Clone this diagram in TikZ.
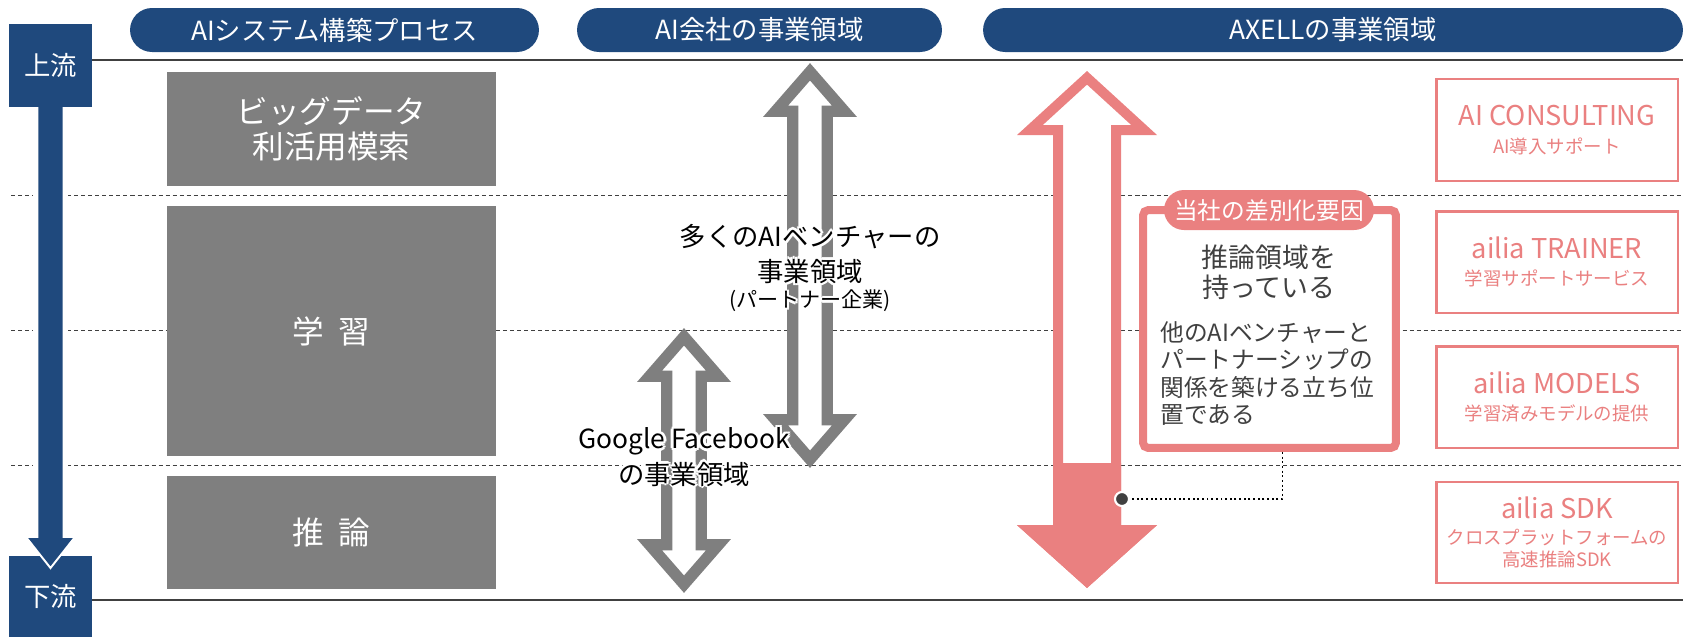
\documentclass[tikz,border=0pt]{standalone}
\usepackage{fontspec}
\setmainfont{Noto Sans CJK JP}
\definecolor{navy}{HTML}{1F497D}
\definecolor{boxgray}{HTML}{7F7F7F}
\definecolor{rose}{HTML}{EA8080}
\definecolor{ink}{HTML}{404040}
\newcommand{\halo}[1]{\leavevmode\begingroup
  \def\haloat##1##2{\rlap{\kern##1\raisebox{##2}{\color{white}#1}}}%
  \haloat{1.4pt}{0pt}\haloat{-1.4pt}{0pt}\haloat{0pt}{1.4pt}\haloat{0pt}{-1.4pt}%
  \haloat{1pt}{1pt}\haloat{-1pt}{1pt}\haloat{1pt}{-1pt}\haloat{-1pt}{-1pt}%
  #1\endgroup}

\begin{document}
\begin{tikzpicture}[x=0.02cm,y=-0.02cm,
  header/.style={fill=navy, text=white, rounded corners=0.44cm, minimum height=0.88cm,
    inner sep=0pt, font=\fontsize{15}{18}\selectfont},
  flowbox/.style={fill=navy, text=white, minimum width=1.66cm, minimum height=1.66cm,
    inner sep=0pt, font=\fontsize{15}{18}\selectfont},
  stage/.style={fill=boxgray, text=white, minimum width=6.58cm, inner sep=0pt,
    align=center, font=\fontsize{18}{20}\selectfont},
  product/.style={draw=rose, line width=1.4pt, fill=white, text=rose, minimum width=4.83cm,
    minimum height=2.03cm, inner sep=0pt, align=center, font=\fontsize{10.5}{12.5}\selectfont},
  rowline/.style={ink, line width=0.55pt, dash pattern=on 2.3pt off 1.7pt},
  edgeline/.style={draw=ink, line width=0.85pt},
  hollow/.style={draw=boxgray, fill=white, line width=6.5pt, miter limit=10}]
\useasboundingbox (0,0) rectangle (1683,637);

\foreach \y in {195,330,465}
  \draw[rowline] (11,\y) -- (1683,\y);
\fill[white] (33,107) rectangle (68,540);

\node[header, minimum width=8.18cm] (process) at (334.5,30) {AIシステム構築プロセス};
\node[header, minimum width=7.3cm] (aico) at (759.5,30) {AI会社の事業領域};
\node[header, minimum width=14cm] (axell) at (1333,30) {AXELLの事業領域};

\draw[edgeline] (92,60) -- (1683,60);
\draw[edgeline] (92,600) -- (1683,600);

\node[flowbox, minimum height=1.62cm] (down) at (50.5,596.5) {下流};
\draw[fill=navy, draw=white, line width=1.1pt] (37.5,100) -- (37.5,537) -- (26,537)
  -- (50.5,568) -- (75,537) -- (63.5,537) -- (63.5,100) -- cycle;
\node[flowbox] (up) at (50.5,65.5) {上流};

\node[stage, minimum height=2.28cm] (bigdata) at (331.5,129) {ビッグデータ\\利活用模索};
\node[stage, minimum height=5cm] (learn) at (331.5,331) {学\hspace{.45em}習};
\node[stage, minimum height=2.26cm] (infer) at (331.5,532.5) {推\hspace{.45em}論};

\draw[hollow] (810,71.8) -- (844.4,111.25) -- (827.25,111.25) -- (827.25,419.75)
  -- (844.4,419.75) -- (810,459.2) -- (775.6,419.75) -- (792.75,419.75)
  -- (792.75,111.25) -- (775.6,111.25) -- cycle;
\draw[hollow] (684,336.8) -- (718.4,376.25) -- (701.25,376.25) -- (701.25,544.75)
  -- (718.4,544.75) -- (684,584.2) -- (649.6,544.75) -- (666.75,544.75)
  -- (666.75,376.25) -- (649.6,376.25) -- cycle;
\draw[hollow, draw=rose, line width=5.7pt] (1087,77.8) -- (1144.1,130) -- (1116,130)
  -- (1116,530) -- (1144.1,530) -- (1087,581.2) -- (1029.9,530) -- (1058,530)
  -- (1058,130) -- (1029.9,130) -- cycle;
\fill[rose] (1053,463) -- (1121,463) -- (1121,525) -- (1157,525) -- (1087,588)
  -- (1017,525) -- (1053,525) -- cycle;

\node[font=\fontsize{15}{20}\selectfont, align=center] (venture) at (810,268)
  {\halo{多くのAIベンチャーの}\\\halo{事業領域}\\[-5pt]{\fontsize{12}{14}\selectfont\halo{(パートナー企業)}}};
\node[font=\fontsize{15}{17.6}\selectfont, align=center] (giants) at (684,457)
  {\halo{Google Facebook}\\\halo{の事業領域}};

\node[draw=rose, fill=white, line width=4.55pt, rounded corners=3pt, minimum width=5.06cm,
  minimum height=4.76cm] (diff) at (1269.5,329) {};
\node[fill=rose, text=white, rounded corners=0.4cm, minimum width=4.2cm, minimum height=0.8cm,
  inner sep=0pt, font=\fontsize{13.5}{16}\selectfont] (edge) at (1269,210) {当社の差別化要因};
\node[text=ink, align=center, font=\fontsize{15.3}{17}\selectfont] (claim) at (1269,272)
  {推論領域を\\持っている};
\node[text=ink, align=left, font=\fontsize{13.5}{15.6}\selectfont] (reason) at (1267,373.5)
  {他のAIベンチャーと\\パートナーシップの\\関係を築ける立ち位\\置である};

\node[circle, fill=ink, draw=white, line width=1.2pt, inner sep=0pt, minimum size=0.28cm]
  (dot) at (1122,499) {};
\draw[black, line width=1.1pt, dash pattern=on 1.1pt off 1.55pt] (diff.south) ++(13,0) |- (dot);

\node[product] (consult) at (1557,130)
  {{\fontsize{15.5}{17}\selectfont AI CONSULTING}\\[3pt]AI導入サポート};
\node[product] (trainer) at (1557,262)
  {{\fontsize{15.5}{17}\selectfont ailia TRAINER}\\[3pt]学習サポートサービス};
\node[product] (models) at (1557,397)
  {{\fontsize{15.5}{17}\selectfont ailia MODELS}\\[3pt]学習済みモデルの提供};
\node[product] (sdk) at (1557,532.5)
  {{\fontsize{15.5}{17}\selectfont ailia SDK}\\[2.7pt]クロスプラットフォームの\\高速推論SDK};
\end{tikzpicture}
\end{document}
